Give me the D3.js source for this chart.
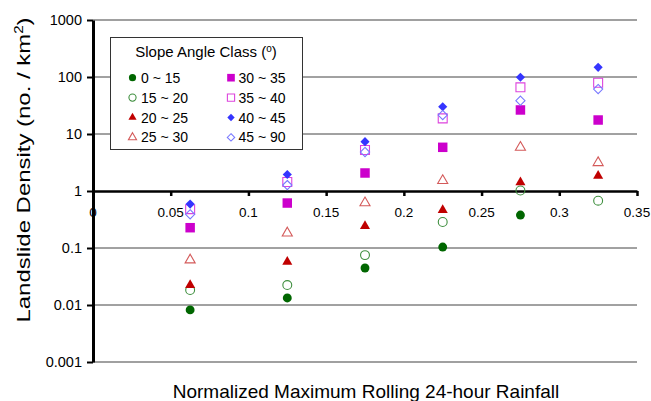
<!DOCTYPE html>
<html>
<head>
<meta charset="utf-8">
<script src="https://cdn.jsdelivr.net/npm/d3@7"></script>
<style>
  html, body { margin: 0; padding: 0; background: #fff; }
  svg { display: block; font-family: "Liberation Sans", Arial, sans-serif; }
</style>
</head>
<body>
<svg id="chart" width="651" height="401"></svg>
<script>
// ---------- data ----------
const rainfall = [0.0625, 0.125, 0.175, 0.225, 0.275, 0.325];
const xTicks = [0, 0.05, 0.1, 0.15, 0.2, 0.25, 0.3, 0.35];
const xTickLabels = ["0", "0.05", "0.1", "0.15", "0.2", "0.25", "0.3", "0.35"];
const yTicks = [0.001, 0.01, 0.1, 1, 10, 100, 1000];
const yTickLabels = ["0.001", "0.01", "0.1", "1", "10", "100", "1000"];
const classNames = ["0 ~ 15", "15 ~ 20", "20 ~ 25", "25 ~ 30", "30 ~ 35", "35 ~ 40", "40 ~ 45", "45 ~ 90"];
const s0_15  = [0.0082, 0.0133, 0.0446, 0.104, 0.379, null];
const s15_20 = [0.0183, 0.0224, 0.075, 0.286, 1.02, 0.676];
const s20_25 = [0.0224, 0.057, 0.243, 0.464, 1.42, 1.85];
const s25_30 = [0.0616, 0.183, 0.62, 1.52, 5.84, 3.14];
const s30_35 = [0.227, 0.615, 2.07, 5.84, 26.4, 17.6];
const s35_40 = [0.48, 1.44, 5.24, 18.8, 65.9, 79.4];
const s40_45 = [0.59, 1.95, 7.33, 30.1, 98.9, 148];
const s45_90 = [0.39, 1.27, 4.83, 21.5, 38.4, 61.5];
const seriesValues = [s0_15, s15_20, s20_25, s25_30, s30_35, s35_40, s40_45, s45_90];

// ---------- styles ----------
const diamond = {
  draw(ctx, size) {
    const r = Math.sqrt(size / 2);
    ctx.moveTo(0, -r); ctx.lineTo(r, 0); ctx.lineTo(0, r); ctx.lineTo(-r, 0); ctx.closePath();
  }
};
const styles = [
  { type: d3.symbolCircle,   size: 62, fill: "#006600", stroke: "none" },
  { type: d3.symbolCircle,   size: 62, fill: "none",    stroke: "#3f8f3f" },
  { type: d3.symbolTriangle, size: 44, fill: "#c00000", stroke: "none" },
  { type: d3.symbolTriangle, size: 44, fill: "none",    stroke: "#d45a5a" },
  { type: d3.symbolSquare,   size: 90, fill: "#cc00cc", stroke: "none" },
  { type: d3.symbolSquare,   size: 80, fill: "none",    stroke: "#dd44dd" },
  { type: diamond,           size: 42, fill: "#3535ff", stroke: "none" },
  { type: diamond,           size: 42, fill: "none",    stroke: "#7878ff" }
];

// ---------- layout ----------
const svg = d3.select("#chart");
const plotL = 93, plotR = 637, plotT = 20, plotB = 362;
const x = d3.scaleLinear().domain([0, 0.35]).range([plotL, plotR]);
const y = d3.scaleLog().domain([0.001, 1000]).range([plotB, plotT]);

// gridlines
svg.append("g").selectAll("line")
  .data(yTicks.filter(v => v !== 1))
  .join("line")
  .attr("x1", plotL).attr("x2", plotR)
  .attr("y1", d => y(d)).attr("y2", d => y(d))
  .attr("stroke", d => (d === 1000 || d === 0.001) ? "#a0a0a0" : "#444")
  .attr("stroke-width", d => (d === 1000 || d === 0.001) ? 2 : 1);

// x tick labels (drawn before axis so axis lies over "0")
svg.append("g").selectAll("text")
  .data(xTicks)
  .join("text")
  .attr("x", d => x(d)).attr("y", 217)
  .attr("text-anchor", "middle")
  .attr("font-size", 13.5)
  .attr("fill", "#000")
  .text((d, i) => xTickLabels[i]);

// x axis at y = 1
const xAxis = d3.axisBottom(x).tickValues(xTicks).tickSize(5).tickFormat("").tickSizeOuter(0);
const gx = svg.append("g").attr("transform", `translate(0,${y(1)})`).call(xAxis);
gx.select(".domain").attr("stroke", "#000").attr("stroke-width", 2.5);
gx.selectAll(".tick line").attr("stroke", "#000").attr("stroke-width", 2.5);

// y axis
const yAxis = d3.axisLeft(y).tickValues(yTicks).tickSize(6).tickSizeOuter(0)
  .tickFormat((d, i) => yTickLabels[i]);
const gy = svg.append("g").attr("transform", `translate(${plotL},0)`).call(yAxis);
gy.select(".domain").attr("stroke", "#000").attr("stroke-width", 3);
gy.selectAll(".tick line").attr("stroke", "#000").attr("stroke-width", 2);
gy.selectAll(".tick text").attr("font-size", 14.5).attr("fill", "#000").attr("x", -11)
  .attr("font-family", "'Liberation Sans', Arial, sans-serif");

// data points
seriesValues.forEach((vals, si) => {
  const st = styles[si];
  const sym = d3.symbol().type(st.type).size(st.size);
  svg.append("g").selectAll("path")
    .data(rainfall.map((r, i) => ({ r, v: vals[i] })).filter(d => d.v != null))
    .join("path")
    .attr("transform", d => `translate(${x(d.r)},${y(d.v)})`)
    .attr("d", sym)
    .attr("fill", st.fill)
    .attr("stroke", st.stroke)
    .attr("stroke-width", st.stroke === "none" ? 0 : 1.1);
});

// legend
const lg = svg.append("g");
lg.append("rect").attr("x", 110.5).attr("y", 37.5).attr("width", 192).attr("height", 112)
  .attr("fill", "#fff").attr("stroke", "#333").attr("stroke-width", 1);
const lt = lg.append("text").attr("x", 206).attr("y", 57).attr("text-anchor", "middle")
  .attr("font-size", 15).attr("fill", "#000");
lt.append("tspan").text("Slope Angle Class (");
lt.append("tspan").attr("font-size", 10).attr("dy", -5).text("o");
lt.append("tspan").attr("dy", 5).text(")");
classNames.forEach((name, i) => {
  const col = Math.floor(i / 4), row = i % 4;
  const mx = col === 0 ? 132.5 : 231, tx = col === 0 ? 141 : 238.5;
  const cy = 77.7 + row * 19.9;
  const st = styles[i];
  lg.append("path")
    .attr("transform", `translate(${mx},${cy})`)
    .attr("d", d3.symbol().type(st.type).size(st.size * 0.65)())
    .attr("fill", st.fill).attr("stroke", st.stroke)
    .attr("stroke-width", st.stroke === "none" ? 0 : 1.1);
  lg.append("text").attr("x", tx).attr("y", cy + 5).attr("font-size", 14).attr("fill", "#000").text(name);
});

// axis titles
const yt = svg.append("text").attr("transform", "translate(30,170) rotate(-90) scale(1.26,1)")
  .attr("text-anchor", "middle").attr("font-size", 19).attr("fill", "#000");
yt.append("tspan").text("Landslide Density (no. / km");
yt.append("tspan").attr("font-size", 12).attr("dy", -7).text("2");
yt.append("tspan").attr("dy", 7).text(")");

svg.append("text").attr("x", 366).attr("y", 398).attr("text-anchor", "middle")
  .attr("font-size", 19).attr("fill", "#000")
  .text("Normalized Maximum Rolling 24-hour Rainfall");
</script>
</body>
</html>
